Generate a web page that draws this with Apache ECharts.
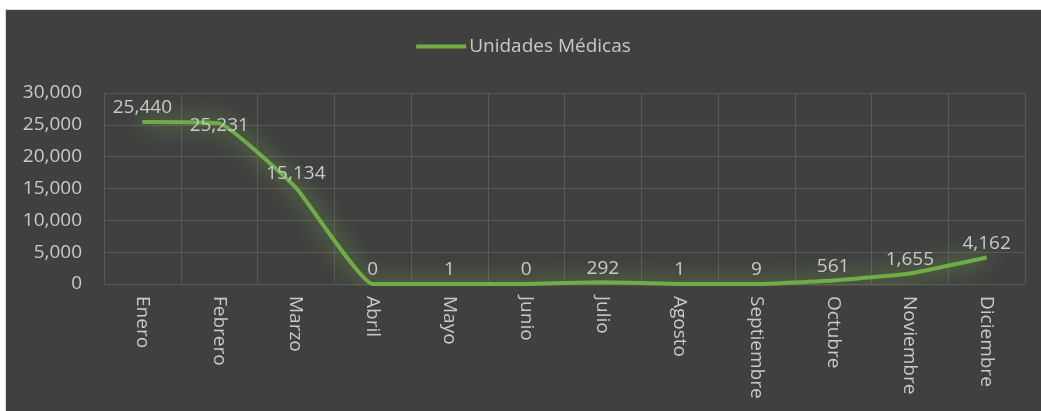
<!DOCTYPE html>
<html>
<head>
<meta charset="utf-8">
<script src="https://cdn.jsdelivr.net/npm/echarts@6/dist/echarts.min.js"></script>
<style>
    html, body {margin: 0; padding: 0; background: #fff;}
    #chart {
        position: absolute; left: 5px; top: 9px;
        width: 1035px; height: 401px;
        background: #404040;
        border-top: 1px solid #d9d9d9;
        border-left: 1px solid #d9d9d9;
    }
</style>
</head>
<body>
<div id="chart"></div>
<script>
    var months = ['Enero', 'Febrero', 'Marzo', 'Abril', 'Mayo', 'Junio', 'Julio', 'Agosto', 'Septiembre', 'Octubre', 'Noviembre', 'Diciembre'];
    var unidades = [25440, 25231, 15134, 0, 1, 0, 292, 1, 9, 561, 1655, 4162];
    var seriesName = 'Unidades Médicas';

    var fontFam = '"Open Sans", "Noto Sans", sans-serif';
    var textGrey = '#c9c9c9';
    var green = '#70ad47';
    var fs = 19;

    function fmt(v) {
        return String(v).replace(/\B(?=(\d{3})+(?!\d))/g, ',');
    }

    // Febrero label sits to the right of its point, like in the original
    var lineData = unidades.map(function (v, i) {
        if (i === 1) {
            return {value: v, label: {position: 'right', distance: -30, offset: [0, 2]}};
        }
        return v;
    });

    var chart = echarts.init(document.getElementById('chart'));
    var option = {
        backgroundColor: '#404040',
        animation: false,
        textStyle: {fontFamily: fontFam},
        legend: {
            top: 22,
            left: 'center',
            itemWidth: 50,
            itemHeight: 4,
            icon: 'rect',
            itemGap: 4,
            itemStyle: {color: green, opacity: 1},
            textStyle: {color: textGrey, fontSize: fs, fontFamily: fontFam, padding: [0, 0, 0, -2]},
            data: [seriesName]
        },
        grid: {left: 98, right: 16, top: 83, bottom: 127},
        xAxis: {
            type: 'category',
            data: months,
            boundaryGap: true,
            axisLine: {show: false},
            axisTick: {show: false},
            splitLine: {show: true, lineStyle: {color: '#595959', width: 1}},
            axisLabel: {
                rotate: -90,
                interval: 0,
                color: textGrey,
                fontSize: fs,
                margin: 12,
                fontFamily: fontFam
            }
        },
        yAxis: {
            type: 'value',
            min: 0,
            max: 30000,
            interval: 5000,
            axisLine: {show: false},
            axisTick: {show: false},
            splitLine: {lineStyle: {color: '#595959', width: 1}},
            axisLabel: {
                color: textGrey,
                fontSize: fs,
                margin: 22,
                fontFamily: fontFam,
                formatter: fmt
            }
        },
        series: [{
            name: seriesName,
            type: 'line',
            data: lineData,
            smooth: 0.12,
            showSymbol: true,
            symbol: 'circle',
            symbolSize: 1,
            itemStyle: {color: 'rgba(112,173,71,0)'},
            color: green,
            lineStyle: {
                color: green,
                width: 4,
                shadowColor: 'rgba(130,200,80,1)',
                shadowBlur: 22
            },
            label: {
                show: true,
                position: 'top',
                distance: 4,
                color: textGrey,
                fontSize: fs,
                fontFamily: fontFam,
                formatter: function (p) {
                    return fmt(p.value);
                }
            }
        }]
    };
    chart.setOption(option);
</script>
</body>
</html>
